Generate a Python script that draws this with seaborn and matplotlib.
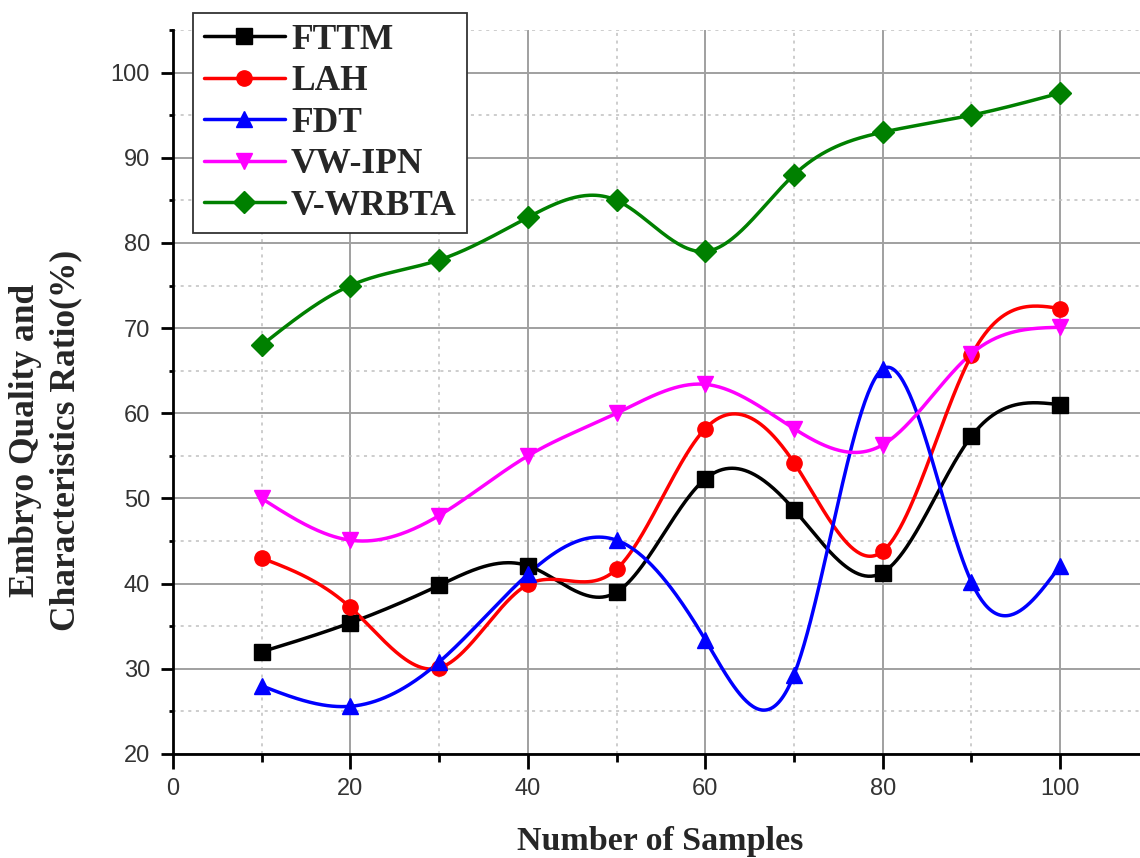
import numpy as np
import pandas as pd
import matplotlib
matplotlib.use("Agg")
import matplotlib.pyplot as plt
import seaborn as sns
from matplotlib.lines import Line2D
from matplotlib.ticker import MultipleLocator

# ---------------- data ----------------
samples = [10, 20, 30, 40, 50, 60, 70, 80, 90, 100]
fttm = [32.0, 35.4, 39.8, 42.1, 39.0, 52.3, 48.7, 41.3, 57.3, 61.0]
lah = [43.0, 37.2, 30.1, 39.9, 41.7, 58.2, 54.2, 43.8, 66.8, 72.3]
fdt = [28.0, 25.6, 30.8, 41.1, 45.1, 33.4, 29.3, 65.2, 40.2, 42.1]
vw_ipn = [50.0, 45.1, 48.0, 55.0, 60.0, 63.4, 58.2, 56.3, 67.0, 70.1]
v_wrbta = [68.0, 75.0, 78.0, 83.0, 85.0, 79.0, 88.0, 93.0, 95.0, 97.6]

series_names = ["FTTM", "LAH", "FDT", "VW-IPN", "V-WRBTA"]
series_values = [fttm, lah, fdt, vw_ipn, v_wrbta]
colors = ["#000000", "#ff0000", "#0000ff", "#ff00ff", "#008000"]
markers = ["s", "o", "^", "v", "D"]
msizes = [11, 11, 12, 12, 11]


def spline_curve(x, y, n=500):
    """Natural cubic spline drawn through the data points (line rendering)."""
    x = np.asarray(x, float)
    y = np.asarray(y, float)
    m = len(x)
    h = np.diff(x)
    A = np.zeros((m, m))
    r = np.zeros(m)
    A[0, 0] = 1.0
    A[-1, -1] = 1.0
    for i in range(1, m - 1):
        A[i, i - 1] = h[i - 1]
        A[i, i] = 2 * (h[i - 1] + h[i])
        A[i, i + 1] = h[i]
        r[i] = 6 * ((y[i + 1] - y[i]) / h[i] - (y[i] - y[i - 1]) / h[i - 1])
    M = np.linalg.solve(A, r)
    xs = np.linspace(x[0], x[-1], n)
    idx = np.clip(np.searchsorted(x, xs) - 1, 0, m - 2)
    xi, xi1, hi = x[idx], x[idx + 1], h[idx]
    ys = (M[idx] * (xi1 - xs) ** 3 / (6 * hi)
          + M[idx + 1] * (xs - xi) ** 3 / (6 * hi)
          + (y[idx] / hi - M[idx] * hi / 6) * (xi1 - xs)
          + (y[idx + 1] / hi - M[idx + 1] * hi / 6) * (xs - xi))
    return xs, ys


sns.set_style("white")
plt.rcParams["font.family"] = ["Liberation Sans", "DejaVu Sans"]

W, H = 1140, 858
fig = plt.figure(figsize=(W / 100, H / 100), dpi=100)
left, right, top, bottom = 173 / W, 1.0, 30 / H, 754 / H
ax = fig.add_axes([left, 1 - bottom, right - left, bottom - top])

for name, vals, c, mk, ms in zip(series_names, series_values, colors, markers, msizes):
    xs, ys = spline_curve(samples, vals)
    df = pd.DataFrame({"x": xs, "y": ys})
    sns.lineplot(data=df, x="x", y="y", color=c, linewidth=2.5, ax=ax,
                 sort=False, zorder=3)
    ax.plot(samples, vals, linestyle="none", marker=mk, markersize=ms,
            color=c, markeredgecolor=c, zorder=4)

ax.set_xlim(0, 109)
ax.set_ylim(20, 105)
ax.xaxis.set_major_locator(MultipleLocator(20))
ax.xaxis.set_minor_locator(MultipleLocator(10))
ax.yaxis.set_major_locator(MultipleLocator(10))
ax.yaxis.set_minor_locator(MultipleLocator(5))

ax.grid(which="major", color="#a0a0a0", linewidth=1.4, linestyle="-", zorder=0)
ax.grid(which="minor", color="#c0c0c0", linewidth=1.1, linestyle=(0, (2, 3)), zorder=0)
ax.set_axisbelow(True)

for s in ["top", "right"]:
    ax.spines[s].set_visible(False)
for s in ["left", "bottom"]:
    ax.spines[s].set_color("black")
    ax.spines[s].set_linewidth(2.0)

ax.tick_params(axis="x", which="major", direction="out", length=11, width=2,
               color="black", labelsize=17, labelcolor="#333333", pad=6,
               bottom=True)
ax.tick_params(axis="x", which="minor", direction="out", length=6, width=2,
               color="black", bottom=True)
ax.tick_params(axis="y", which="major", direction="out", length=8.5, width=2,
               color="black", labelsize=17, labelcolor="#333333", pad=8,
               left=True)
ax.tick_params(axis="y", which="minor", direction="out", length=3, width=2,
               color="black", left=True)
ax.set_xlabel("")
ax.set_ylabel("")

serif_bold = dict(family=["Liberation Serif", "DejaVu Serif"], weight="bold")
fig.text(46 / W, 1 - 440 / H, "Embryo Quality and\nCharacteristics Ratio(%)",
         rotation=90, ha="center", va="center", multialignment="center",
         fontsize=25.5, linespacing=1.3, **serif_bold)
fig.text(660 / W, 1 - 850 / H, "Number of Samples", ha="center", va="baseline",
         fontsize=24.5, **serif_bold)

handles = [Line2D([0], [0], color=c, marker=mk, markersize=ms, linewidth=2.5)
           for c, mk, ms in zip(colors, markers, msizes)]
leg = fig.legend(handles, series_names, loc="upper left",
                 bbox_to_anchor=(193 / W, 1 - 13 / H), bbox_transform=fig.transFigure,
                 frameon=True, fancybox=False, framealpha=1, edgecolor="#333333",
                 prop=dict(family=["Liberation Serif", "DejaVu Serif"], weight="bold", size=25.5),
                 handlelength=2.3, handletextpad=0.17, labelspacing=0.24,
                 borderpad=0.3, borderaxespad=0)
leg.get_frame().set_linewidth(1.3)

fig.savefig("out.png", dpi=100)
